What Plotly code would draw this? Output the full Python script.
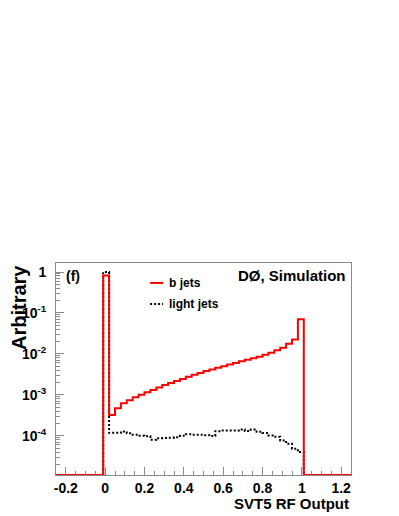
import numpy as np
import plotly.graph_objects as go

# 50 bins of width 0.03 from -0.25 to 1.25
bin_edges = np.linspace(-0.25, 1.25, 51)

b_jets = [
    0, 0, 0, 0, 0, 0, 0, 0,
    0.82,
    3.2e-4, 4.7e-4, 6.2e-4, 7.4e-4, 8.7e-4, 1.0e-3, 1.15e-3, 1.32e-3,
    1.51e-3, 1.74e-3, 1.95e-3, 2.19e-3, 2.45e-3, 2.75e-3, 3.09e-3, 3.39e-3,
    3.8e-3, 4.17e-3, 4.57e-3, 5.0e-3, 5.5e-3, 6.0e-3, 6.6e-3, 7.2e-3,
    7.8e-3, 8.5e-3, 9.5e-3, 1.07e-2, 1.23e-2, 1.41e-2, 1.78e-2, 2.24e-2,
    7.0e-2,
    0, 0, 0, 0, 0, 0, 0, 0,
]

light_jets = [
    0, 0, 0, 0, 0, 0, 0, 0,
    1.0,
    1.18e-4, 1.18e-4, 1.27e-4, 1.15e-4, 1.06e-4, 1.0e-4, 0.97e-4, 8.0e-5,
    8.7e-5, 8.8e-5, 8.9e-5, 9.2e-5, 1.0e-4, 1.09e-4, 1.06e-4, 1.06e-4,
    1.03e-4, 9.8e-5, 1.29e-4, 1.34e-4, 1.34e-4, 1.34e-4, 1.42e-4, 1.30e-4,
    1.42e-4, 1.25e-4, 1.16e-4, 1.02e-4, 9.5e-5, 7.7e-5, 6.4e-5, 4.8e-5,
    4.0e-5,
    0, 0, 0, 0, 0, 0, 0, 0,
]

y_tickvals = [1e-4, 1e-3, 1e-2, 1e-1, 1]
y_ticktext = ["10<sup>-4</sup>", "10<sup>-3</sup>", "10<sup>-2</sup>", "10<sup>-1</sup>", "1"]
x_tickvals = [-0.2, 0, 0.2, 0.4, 0.6, 0.8, 1, 1.2]
x_ticktext = ["-0.2", "0", "0.2", "0.4", "0.6", "0.8", "1", "1.2"]

YMIN, YMAX = 1.1e-5, 1.66
FONT = "Liberation Sans, Arial, Helvetica, sans-serif"
FRAME = "#8a8a8a"


def step_xy(values):
    # empty bins sit on the axis floor, as ROOT draws them on a log scale
    v = [max(val, YMIN) for val in values]
    return list(bin_edges), v + [v[-1]]


fig = go.Figure()

x, y = step_xy(light_jets)
fig.add_trace(go.Scatter(x=x, y=y, mode="lines", line_shape="hv",
                         line=dict(color="black", width=2, dash="2px,2px"),
                         showlegend=False, hoverinfo="skip"))

x, y = step_xy(b_jets)
fig.add_trace(go.Scatter(x=x, y=y, mode="lines", line_shape="hv",
                         line=dict(color="#ff0000", width=2),
                         showlegend=False, hoverinfo="skip"))

# legend keys
fig.add_shape(type="line", xref="paper", yref="paper", x0=0.319, x1=0.363,
              y0=0.906, y1=0.906, line=dict(color="#ff0000", width=2))
fig.add_shape(type="line", xref="paper", yref="paper", x0=0.319, x1=0.363,
              y0=0.807, y1=0.807, line=dict(color="black", width=2, dash="2px,2px"))

bold = dict(family=FONT, color="black", weight="bold")
annotations = [
    dict(text="b jets", x=0.375, y=0.906, xanchor="left", yanchor="middle",
         font=dict(size=12, **bold)),
    dict(text="light jets", x=0.375, y=0.807, xanchor="left", yanchor="middle",
         font=dict(size=12, **bold)),
    dict(text="(f)", x=0.028, y=0.94, xanchor="left", yanchor="middle",
         font=dict(size=14, **bold)),
    dict(text="DØ, Simulation", x=0.99, y=0.94, xanchor="right", yanchor="middle",
         font=dict(size=15, **bold)),
    dict(text="Arbitrary", x=-0.127, y=1.0, xanchor="center", yanchor="top",
         textangle=-90, font=dict(size=20, **bold)),
    dict(text="SVT5 RF Output", x=1.0, y=-0.135, xanchor="right", yanchor="middle",
         font=dict(size=15, **bold)),
]
for a in annotations:
    fig.add_annotation(xref="paper", yref="paper", showarrow=False, **a)

# the page body adds an 8px margin, so the figure is 8px smaller than the window
fig.update_layout(
    width=391, height=508,
    margin=dict(l=48, r=48, t=255, b=41),
    paper_bgcolor="white", plot_bgcolor="white",
    xaxis=dict(
        range=[-0.25, 1.25], tickvals=x_tickvals, ticktext=x_ticktext,
        ticks="inside", ticklen=8, tickcolor=FRAME, tickwidth=1,
        minor=dict(ticks="inside", ticklen=4, tickcolor=FRAME, dtick=0.05, showgrid=False),
        showline=True, linecolor=FRAME, linewidth=1, mirror=True,
        showgrid=False, zeroline=False,
        tickfont=dict(size=14, **bold), ticklabelstandoff=0,
    ),
    yaxis=dict(
        type="log", range=[np.log10(YMIN), np.log10(YMAX)],
        tickvals=y_tickvals, ticktext=y_ticktext,
        ticks="inside", ticklen=8, tickcolor=FRAME, tickwidth=1,
        minor=dict(ticks="inside", ticklen=4, tickcolor=FRAME, dtick="D1", showgrid=False),
        showline=True, linecolor=FRAME, linewidth=1, mirror=True,
        showgrid=False, zeroline=False,
        tickfont=dict(size=14, **bold), ticklabelstandoff=6,
    ),
)

fig.write_html("out.html")
